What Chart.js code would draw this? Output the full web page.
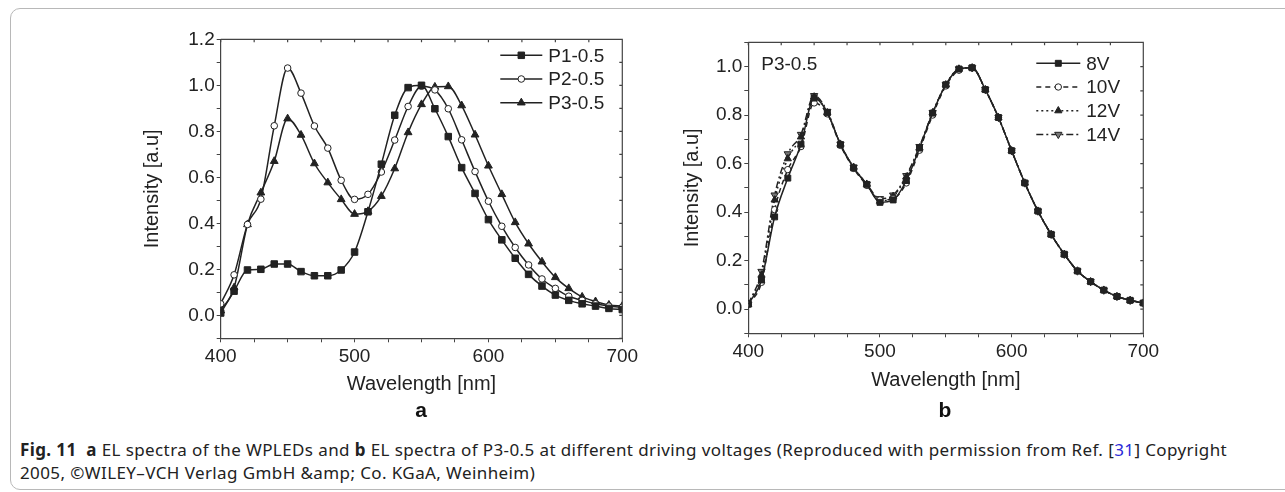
<!DOCTYPE html>
<html>
<head>
<meta charset="utf-8">
<script src="https://cdn.jsdelivr.net/npm/chart.js@4.4.1/dist/chart.umd.min.js"></script>
<style>
  html, body { margin: 0; padding: 0; background: #fff; }
  body { width: 1285px; height: 492px; position: relative; overflow: hidden; }
  .frame { position: absolute; left: 10px; top: 8px; width: 1320px; height: 480px;
           border: 1px solid #b8b8b8; border-radius: 10px; }
  #wrapA { position: absolute; left: 0; top: 0; width: 660px; height: 400px; }
  #wrapB { position: absolute; left: 660px; top: 0; width: 625px; height: 400px; }
  .sub { position: absolute; top: 398px; width: 40px; text-align: center;
         font: bold 21px "Liberation Sans", Arial, sans-serif; color: #111; }
  .caption { position: absolute; left: 20px; top: 438px; width: 1260px;
             font: 17px "Noto Sans", "Open Sans", sans-serif; letter-spacing: 0.4px;
             line-height: 23px; color: #222; }
  .caption b { font-weight: 700; }
  .caption .ref { color: #2a2ad8; }
</style>
</head>
<body>
<div class="frame"></div>
<div id="wrapA"><canvas id="chartA" width="660" height="400"></canvas></div>
<div id="wrapB"><canvas id="chartB" width="625" height="400"></canvas></div>
<div class="sub" style="left:401px">a</div>
<div class="sub" style="left:925px">b</div>
<div class="caption"><b>Fig. 11</b>&nbsp; <b>a</b> EL spectra of the WPLEDs and <b>b</b> EL spectra of P3-0.5 at different driving voltages (Reproduced with permission from Ref. [<span class="ref">31</span>] Copyright<br>2005, ©WILEY–VCH Verlag GmbH &amp;amp; Co. KGaA, Weinheim)</div>

<script>
// wavelength grid (nm)
var wavelength = [400, 410, 420, 430, 440, 450, 460, 470, 480, 490, 500,
                  510, 520, 530, 540, 550, 560, 570, 580, 590, 600,
                  610, 620, 630, 640, 650, 660, 670, 680, 690, 700];

// panel a: EL spectra of the WPLEDs
var p1 = [0.01, 0.105, 0.197, 0.20, 0.223, 0.223, 0.19, 0.172, 0.172, 0.197, 0.275,
          0.45, 0.657, 0.87, 0.99, 1.0, 0.898, 0.777, 0.642, 0.53, 0.416,
          0.328, 0.248, 0.178, 0.127, 0.088, 0.065, 0.05, 0.04, 0.03, 0.025];
var p2 = [0.05, 0.176, 0.395, 0.505, 0.824, 1.075, 0.966, 0.823, 0.727, 0.587, 0.504,
          0.526, 0.623, 0.762, 0.908, 0.996, 0.98, 0.898, 0.763, 0.625, 0.496,
          0.387, 0.295, 0.219, 0.158, 0.117, 0.083, 0.065, 0.05, 0.04, 0.035];
var p3 = [0.02, 0.12, 0.395, 0.533, 0.67, 0.855, 0.784, 0.66, 0.577, 0.504, 0.44,
          0.452, 0.518, 0.638, 0.795, 0.917, 0.993, 0.995, 0.912, 0.785, 0.65,
          0.526, 0.404, 0.311, 0.233, 0.165, 0.117, 0.08, 0.06, 0.045, 0.04];

// panel b: P3-0.5 at different driving voltages
var v8  = [0.02, 0.12, 0.38, 0.54, 0.68, 0.87, 0.81, 0.678, 0.582, 0.514, 0.44,
           0.45, 0.53, 0.664, 0.808, 0.925, 0.99, 0.995, 0.905, 0.79, 0.653,
           0.52, 0.404, 0.308, 0.226, 0.157, 0.113, 0.078, 0.052, 0.036, 0.025];
var v10 = [0.02, 0.11, 0.41, 0.575, 0.67, 0.85, 0.805, 0.675, 0.58, 0.51, 0.45,
           0.455, 0.52, 0.655, 0.80, 0.92, 0.985, 0.995, 0.905, 0.79, 0.653,
           0.52, 0.404, 0.308, 0.226, 0.157, 0.113, 0.078, 0.052, 0.036, 0.025];
var v12 = [0.02, 0.14, 0.45, 0.62, 0.71, 0.875, 0.81, 0.68, 0.585, 0.515, 0.445,
           0.465, 0.545, 0.665, 0.81, 0.925, 0.99, 0.995, 0.905, 0.79, 0.653,
           0.52, 0.404, 0.308, 0.226, 0.157, 0.113, 0.078, 0.052, 0.036, 0.025];
var v14 = [0.02, 0.155, 0.47, 0.64, 0.72, 0.88, 0.815, 0.68, 0.585, 0.515, 0.455,
           0.47, 0.55, 0.67, 0.81, 0.925, 0.99, 0.995, 0.905, 0.79, 0.653,
           0.52, 0.404, 0.308, 0.226, 0.157, 0.113, 0.078, 0.052, 0.036, 0.025];

var FONT = '"Liberation Sans", Arial, sans-serif';
var INK = '#222';

function pts(ys) {
    return wavelength.map(function (x, i) { return { x: x, y: ys[i] }; });
}

function series(label, ys, style, fill, dash, rot, r) {
    return {
        label: label,
        data: pts(ys),
        borderColor: INK,
        borderWidth: 1.5,
        borderDash: dash || [],
        pointStyle: style,
        pointRotation: rot || 0,
        pointRadius: r,
        pointBackgroundColor: fill,
        pointBorderColor: INK,
        pointBorderWidth: 1,
        cubicInterpolationMode: 'monotone',
        fill: false
    };
}

// top/right frame with inward ticks, plus the in-plot legend
var framePlugin = {
    id: 'frame',
    afterDraw: function (chart) {
        var ctx = chart.ctx, a = chart.chartArea;
        var xs = chart.scales.x, ys = chart.scales.y;
        ctx.save();
        ctx.strokeStyle = '#444';
        ctx.lineWidth = 1.2;
        ctx.beginPath();
        ctx.moveTo(a.left, a.top); ctx.lineTo(a.right, a.top); ctx.lineTo(a.right, a.bottom);
        xs.ticks.forEach(function (t) {
            var px = xs.getPixelForValue(t.value);
            ctx.moveTo(px, a.top); ctx.lineTo(px, a.top + 3);
        });
        ys.ticks.forEach(function (t) {
            var py = ys.getPixelForValue(t.value);
            ctx.moveTo(a.right, py); ctx.lineTo(a.right - 3, py);
        });
        ctx.stroke();

        var lg = chart.options.plugins.inLegend;
        ctx.font = '19px ' + FONT;
        ctx.fillStyle = INK;
        ctx.textBaseline = 'middle';
        chart.data.datasets.forEach(function (ds, i) {
            var y = a.top + lg.top + i * lg.gap;
            var x0 = a.right - lg.lineFrom, x1 = x0 + lg.lineLen;
            ctx.strokeStyle = INK;
            ctx.lineWidth = 1.5;
            ctx.setLineDash(ds.borderDash);
            ctx.beginPath(); ctx.moveTo(x0, y); ctx.lineTo(x1, y); ctx.stroke();
            ctx.setLineDash([]);
            ctx.fillStyle = ds.pointBackgroundColor;
            ctx.strokeStyle = INK;
            ctx.lineWidth = 1;
            Chart.helpers.drawPoint(ctx, {
                pointStyle: ds.pointStyle, rotation: ds.pointRotation,
                radius: ds.pointRadius, borderWidth: 1
            }, (x0 + x1) / 2, y);
            ctx.fillStyle = INK;
            ctx.fillText(ds.label, x1 + 6, y + 1);
        });
        if (lg.note) {
            ctx.fillText(lg.note, a.left + 13, a.top + 22);
        }
        ctx.restore();
    }
};

function makeChart(id, datasets, cfg) {
    return new Chart(document.getElementById(id), {
        type: 'line',
        data: { datasets: datasets },
        plugins: [framePlugin],
        options: {
            responsive: false,
            animation: false,
            layout: { padding: { left: 0, top: cfg.top, right: cfg.right, bottom: 0 } },
            plugins: {
                legend: { display: false },
                tooltip: { enabled: false },
                inLegend: cfg.legend
            },
            scales: {
                x: {
                    type: 'linear', min: 400, max: 700,
                    afterFit: function (s) { s.height = cfg.xHeight; },
                    border: { color: '#444', width: 1.2 },
                    grid: { drawOnChartArea: false, tickLength: 4, color: '#444' },
                    ticks: {
                        stepSize: 25, autoSkip: false, maxRotation: 0, padding: 3,
                        color: INK, font: { family: FONT, size: 19 },
                        callback: function (v) { return v % 100 === 0 ? String(v) : ''; }
                    },
                    title: {
                        display: true, text: 'Wavelength [nm]', color: INK,
                        font: { family: FONT, size: 20 },
                        padding: { top: 0, bottom: cfg.xTitlePad }
                    }
                },
                y: {
                    min: -0.1, max: cfg.yMax,
                    afterFit: function (s) { s.width = cfg.yWidth; },
                    border: { color: '#444', width: 1.2 },
                    grid: { drawOnChartArea: false, tickLength: 4, color: '#444' },
                    ticks: {
                        stepSize: 0.1, autoSkip: false, padding: 2,
                        color: INK, font: { family: FONT, size: 19 },
                        callback: function (v) {
                            var k = Math.round(v * 10);
                            return (k % 2 === 0 && k >= 0) ? (k / 10).toFixed(1) : '';
                        }
                    },
                    title: {
                        display: true, text: 'Intensity [a.u]', color: INK,
                        font: { family: FONT, size: 20 },
                        padding: { top: cfg.yTitlePad, bottom: 0 }
                    }
                }
            }
        }
    });
}

makeChart('chartA', [
    series('P1-0.5', p1, 'rect', INK, [], 0, 4.6),
    series('P2-0.5', p2, 'circle', '#fff', [], 0, 3.3),
    series('P3-0.5', p3, 'triangle', INK, [], 0, 4.5)
], {
    top: 39.3, right: 37.7, xHeight: 61.7, yWidth: 220.7, yMax: 1.2,
    xTitlePad: 4, yTitlePad: 140,
    legend: { top: 16, gap: 23.7, lineFrom: 122, lineLen: 42 }
});

makeChart('chartB', [
    series('8V', v8, 'rect', INK, [], 0, 4.2),
    series('10V', v10, 'circle', '#fff', [5, 4], 0, 3.2),
    series('12V', v12, 'triangle', INK, [2, 3], 0, 4.2),
    series('14V', v14, 'triangle', '#777', [7, 3, 2, 3], 180, 4.2)
], {
    top: 42.3, right: 141.7, xHeight: 66.7, yWidth: 88.3, yMax: 1.1,
    xTitlePad: 8, yTitlePad: 20,
    legend: { top: 21, gap: 23.7, lineFrom: 107, lineLen: 44, note: 'P3-0.5' }
});
</script>
</body>
</html>
